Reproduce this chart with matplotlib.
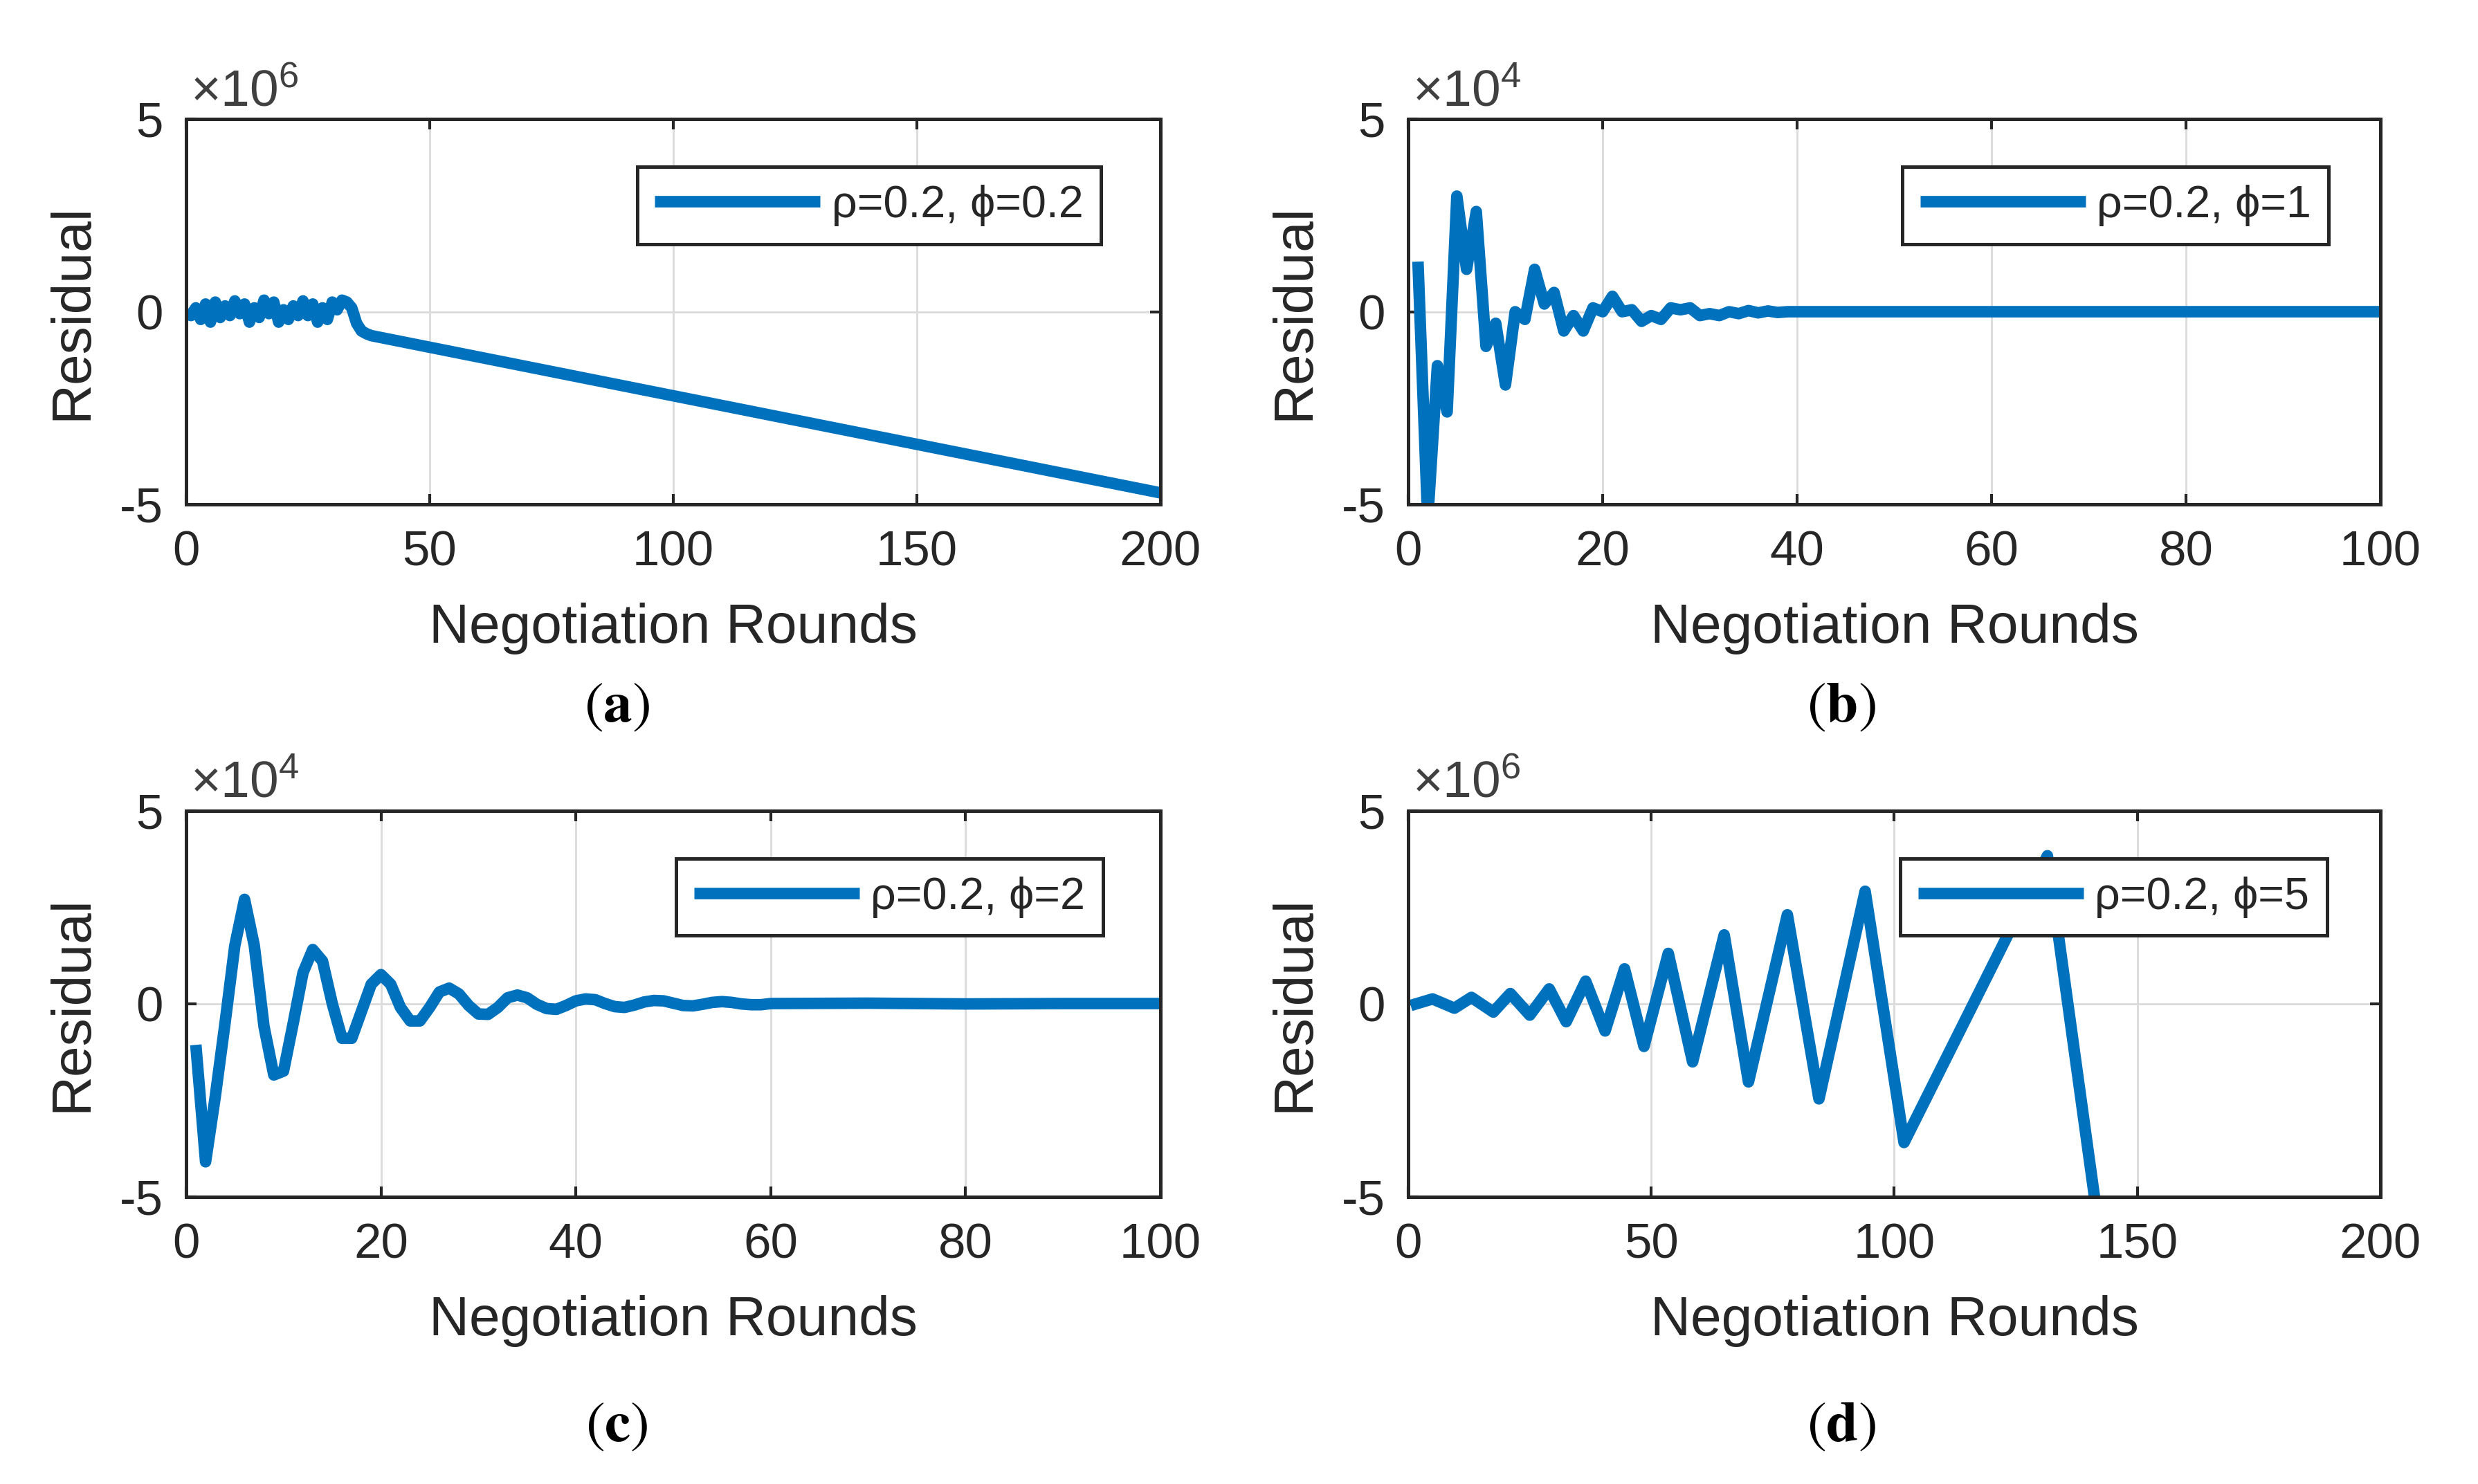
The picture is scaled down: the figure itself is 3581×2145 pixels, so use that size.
import matplotlib
matplotlib.use("Agg")
import matplotlib.pyplot as plt

# =============================================================================
# Data
# =============================================================================

# (a) rho=0.2, phi=0.2  -- residual in units of 1e6
rounds_a = list(range(0, 39)) + [200]
resid_a = [0.0, -0.1, 0.1, -0.2, 0.2, -0.27, 0.25, -0.15, 0.15, -0.1,
           0.28, -0.05, 0.2, -0.27, 0.1, -0.15, 0.3, -0.05, 0.25, -0.27,
           0.05, -0.2, 0.15, -0.1, 0.28, -0.1, 0.2, -0.27, 0.1, -0.2,
           0.25, 0.05, 0.3, 0.25, 0.1, -0.3, -0.5, -0.57, -0.62, -4.7]

# (b) rho=0.2, phi=1  -- residual in units of 1e4
rounds_b = list(range(1, 41)) + [60, 80, 100]
resid_b = [1.3, -5.4, -1.4, -2.6, 3.0, 1.1, 2.6, -0.9, -0.3, -1.9,
           0.0, -0.2, 1.1, 0.2, 0.5, -0.5, -0.1, -0.5, 0.1, 0.0,
           0.4, 0.0, 0.05, -0.25, -0.1, -0.2, 0.1, 0.05, 0.1, -0.1,
           -0.05, -0.1, 0.0, -0.05, 0.03, -0.03, 0.02, -0.02, 0.0, 0.0,
           0.0, 0.0, 0.0]

# (c) rho=0.2, phi=2  -- residual in units of 1e4
rounds_c = list(range(1, 61)) + [70, 80, 90, 100]
resid_c = [-1.07, -4.1, -2.4, -0.5, 1.5, 2.7, 1.5, -0.6, -1.85, -1.75,
           -0.5, 0.8, 1.4, 1.1, 0.0, -0.9, -0.9, -0.2, 0.5, 0.75,
           0.5, -0.1, -0.45, -0.45, -0.1, 0.3, 0.4, 0.25, -0.05, -0.27,
           -0.28, -0.1, 0.15, 0.22, 0.15, -0.02, -0.13, -0.15, -0.05, 0.07,
           0.12, 0.1, 0.0, -0.08, -0.1, -0.04, 0.04, 0.08, 0.07, 0.01,
           -0.05, -0.06, -0.02, 0.03, 0.05, 0.03, -0.01, -0.03, -0.03, 0.0,
           0.01, -0.01, 0.0, 0.0]

# (d) rho=0.2, phi=5  -- residual in units of 1e6
rounds_d = [0.5, 5, 9.5, 13, 17.5, 21, 25, 29, 32.5, 36.5, 40.5, 44.5,
            48.5, 53.5, 58.5, 65, 70, 78, 84.5, 94, 102, 131.5, 141.5]
resid_d = [-0.05, 0.12, -0.12, 0.16, -0.22, 0.26, -0.3, 0.38, -0.47, 0.58,
           -0.71, 0.9, -1.11, 1.3, -1.51, 1.78, -2.03, 2.3, -2.47, 2.91,
           -3.6, 3.83, -5.3]

LABELS = ["ρ=0.2, ϕ=0.2", "ρ=0.2, ϕ=1", "ρ=0.2, ϕ=2", "ρ=0.2, ϕ=5"]
EXPONENTS = [6, 4, 4, 6]
XMAX = [200, 100, 100, 200]
XTICKS = [[0, 50, 100, 150, 200],
          [0, 20, 40, 60, 80, 100],
          [0, 20, 40, 60, 80, 100],
          [0, 50, 100, 150, 200]]
CAPTIONS = ["a", "b", "c", "d"]

# =============================================================================
# Style
# =============================================================================

LINE_COLOR = "#0072BD"
AX_COLOR = "#262626"
SANS = ["Liberation Sans", "DejaVu Sans"]

plt.rcParams["font.family"] = SANS
plt.rcParams["axes.unicode_minus"] = False
plt.rcParams["mathtext.fontset"] = "custom"
plt.rcParams["mathtext.rm"] = "Liberation Sans"
plt.rcParams["mathtext.it"] = "Liberation Sans:italic"
plt.rcParams["mathtext.bf"] = "Liberation Sans:bold"

FS_TICK = 17
FS_LABEL = 19.3
FS_LEG = 15.5

fig = plt.figure(figsize=(3581 / 300, 2145 / 300), dpi=300)

# axes rectangles in figure fractions: left, bottom, width, height
RECTS = [
    [0.0751, 0.6601, 0.3932, 0.2597],
    [0.5683, 0.6601, 0.3923, 0.2597],
    [0.0751, 0.1937, 0.3932, 0.2601],
    [0.5683, 0.1937, 0.3923, 0.2601],
]
LEG_RIGHT = [0.939, 0.947, 0.941, 0.945]
CAPTION_POS = [(0.249, 0.524), (0.743, 0.524), (0.249, 0.039), (0.743, 0.039)]

series = [(rounds_a, resid_a), (rounds_b, resid_b),
          (rounds_c, resid_c), (rounds_d, resid_d)]

for i, (xs, ys) in enumerate(series):
    ax = fig.add_axes(RECTS[i])
    ax.plot(xs, ys, color=LINE_COLOR, lw=4.0, label=LABELS[i],
            solid_joinstyle="round", solid_capstyle="butt")

    ax.set_xlim(0, XMAX[i])
    ax.set_ylim(-5, 5)
    ax.set_xticks(XTICKS[i])
    ax.set_yticks([-5, 0, 5])

    ax.grid(True, color="#dcdcdc", lw=0.7)
    ax.set_axisbelow(True)
    for sp in ax.spines.values():
        sp.set_color(AX_COLOR)
        sp.set_linewidth(1.2)
    ax.tick_params(direction="in", length=3.5, width=1.0, colors=AX_COLOR,
                   labelsize=FS_TICK, top=True, right=True, pad=9)
    ax.tick_params(axis="y", pad=8)

    ax.set_xlabel("Negotiation Rounds", fontsize=FS_LABEL, color=AX_COLOR)
    ax.xaxis.set_label_coords(0.5, -0.255)
    ax.set_ylabel("Residual", fontsize=FS_LABEL, color=AX_COLOR)
    ax.yaxis.set_label_coords(-0.09, 0.5)

    # exponent label like MATLAB
    ax.text(0.004, 1.034, r"$\times\mathregular{10^{%d}}$" % EXPONENTS[i],
            transform=ax.transAxes, fontsize=18, color="#404040",
            ha="left", va="baseline")

    leg = ax.legend(loc="upper right", bbox_to_anchor=(LEG_RIGHT[i], 0.876),
                    borderaxespad=0, fontsize=FS_LEG, handlelength=3.7,
                    handletextpad=0.25, borderpad=0.4, fancybox=False,
                    framealpha=1, edgecolor=AX_COLOR)
    leg.get_frame().set_linewidth(1.2)
    for t in leg.get_texts():
        t.set_color(AX_COLOR)

    cx, cy = CAPTION_POS[i]
    fig.text(cx, cy, r"$(\mathbf{%s})$" % CAPTIONS[i], fontsize=20,
             ha="center", va="center", math_fontfamily="stix", color="black")

fig.savefig("out.png", dpi=300)
